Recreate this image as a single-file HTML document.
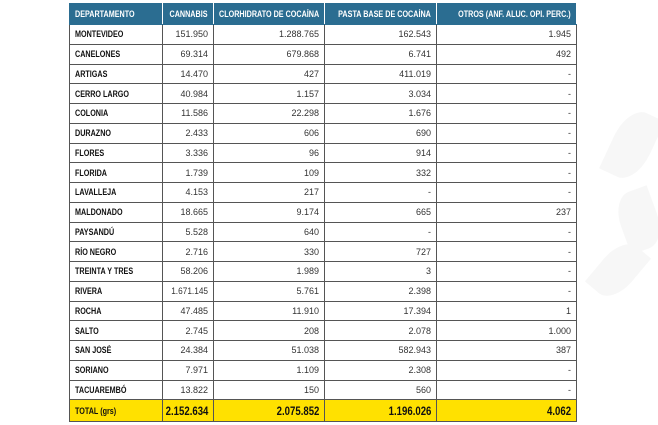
<!DOCTYPE html>
<html><head><meta charset="utf-8"><style>
body{margin:0;width:658px;height:425px;background:#fff;overflow:hidden;position:relative;font-family:"Liberation Sans",Arial,sans-serif}
table{position:absolute;left:69px;top:3px;border-collapse:collapse;table-layout:fixed;width:507px}
td,th{border:1px solid #555;font-size:9px;padding:0 5px;white-space:nowrap;overflow:visible}
th{background:#2b6d91;color:#fff;height:20px;font-size:9px;font-weight:bold;border-color:#2b6d91;border-right-color:#fff}
th:first-child{text-align:left}
td{height:18.75px;text-align:right;color:#333}
span{display:inline-block;transform:scaleX(.8);transform-origin:left center}
.r{display:flex;justify-content:flex-end}
.r span{flex:none;transform-origin:right center}
td:first-child{text-align:left;font-weight:bold;color:#111;font-size:9px}
tr.total td{background:#ffe100;font-weight:bold;font-size:12px;color:#111;height:21px}
tr.total td:first-child{font-size:9px}
.wm{position:absolute;background:#f7f7f7;border-radius:50% 0;}
</style></head><body>
<div class="wm" style="left:612px;top:110px;width:40px;height:70px;transform:rotate(25deg)"></div>
<div class="wm" style="left:620px;top:190px;width:38px;height:60px;transform:rotate(-20deg)"></div>
<div class="wm" style="left:600px;top:240px;width:36px;height:60px;transform:rotate(40deg)"></div>
<table>
<colgroup><col style="width:93px"><col style="width:51px"><col style="width:111px"><col style="width:112px"><col style="width:140px"></colgroup>
<tr><th><span>DEPARTAMENTO</span></th><th><div class="r"><span>CANNABIS</span></div></th><th><div class="r"><span>CLORHIDRATO DE COCAÍNA</span></div></th><th><div class="r"><span>PASTA BASE DE COCAÍNA</span></div></th><th><div class="r"><span>OTROS (ANF. ALUC. OPI. PERC.)</span></div></th></tr>
<tr><td><span>MONTEVIDEO</span></td><td>151.950</td><td>1.288.765</td><td>162.543</td><td>1.945</td></tr>
<tr><td><span>CANELONES</span></td><td>69.314</td><td>679.868</td><td>6.741</td><td>492</td></tr>
<tr><td><span>ARTIGAS</span></td><td>14.470</td><td>427</td><td>411.019</td><td>-</td></tr>
<tr><td><span>CERRO LARGO</span></td><td>40.984</td><td>1.157</td><td>3.034</td><td>-</td></tr>
<tr><td><span>COLONIA</span></td><td>11.586</td><td>22.298</td><td>1.676</td><td>-</td></tr>
<tr><td><span>DURAZNO</span></td><td>2.433</td><td>606</td><td>690</td><td>-</td></tr>
<tr><td><span>FLORES</span></td><td>3.336</td><td>96</td><td>914</td><td>-</td></tr>
<tr><td><span>FLORIDA</span></td><td>1.739</td><td>109</td><td>332</td><td>-</td></tr>
<tr><td><span>LAVALLEJA</span></td><td>4.153</td><td>217</td><td>-</td><td>-</td></tr>
<tr><td><span>MALDONADO</span></td><td>18.665</td><td>9.174</td><td>665</td><td>237</td></tr>
<tr><td><span>PAYSANDÚ</span></td><td>5.528</td><td>640</td><td>-</td><td>-</td></tr>
<tr><td><span>RÍO NEGRO</span></td><td>2.716</td><td>330</td><td>727</td><td>-</td></tr>
<tr><td><span>TREINTA Y TRES</span></td><td>58.206</td><td>1.989</td><td>3</td><td>-</td></tr>
<tr><td><span>RIVERA</span></td><td><div class="r"><span style="transform:scaleX(.92)">1.671.145</span></div></td><td>5.761</td><td>2.398</td><td>-</td></tr>
<tr><td><span>ROCHA</span></td><td>47.485</td><td>11.910</td><td>17.394</td><td>1</td></tr>
<tr><td><span>SALTO</span></td><td>2.745</td><td>208</td><td>2.078</td><td>1.000</td></tr>
<tr><td><span>SAN JOSÉ</span></td><td>24.384</td><td>51.038</td><td>582.943</td><td>387</td></tr>
<tr><td><span>SORIANO</span></td><td>7.971</td><td>1.109</td><td>2.308</td><td>-</td></tr>
<tr><td><span>TACUAREMBÓ</span></td><td>13.822</td><td>150</td><td>560</td><td>-</td></tr>
<tr class="total"><td><span>TOTAL (grs)</span></td><td><div class="r"><span>2.152.634</span></div></td><td><div class="r"><span>2.075.852</span></div></td><td><div class="r"><span>1.196.026</span></div></td><td><div class="r"><span>4.062</span></div></td></tr>
</table>
</body></html>
